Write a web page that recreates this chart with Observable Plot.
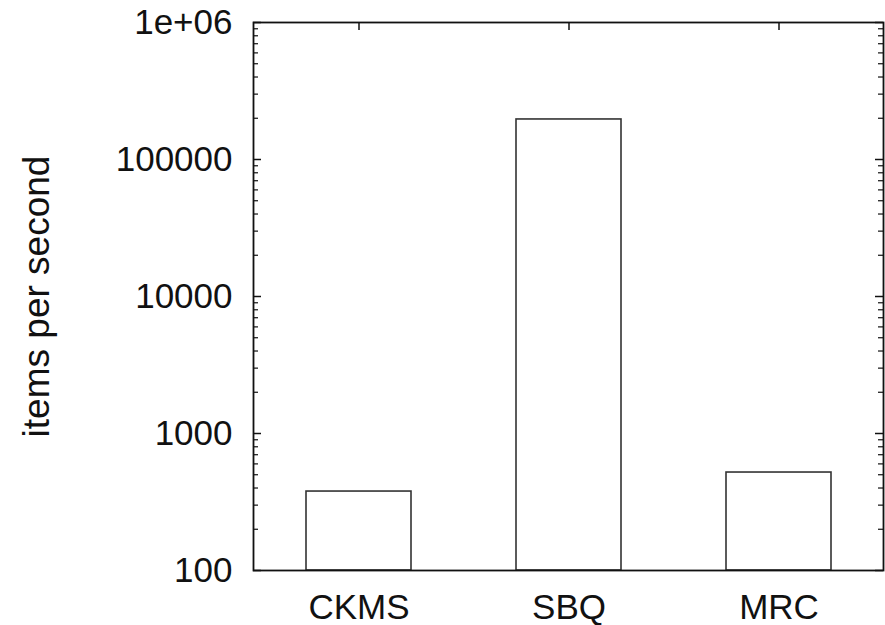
<!DOCTYPE html>
<html>
<head>
<meta charset="utf-8">
<script src="https://cdn.jsdelivr.net/npm/d3@7"></script>
<script src="https://cdn.jsdelivr.net/npm/@observablehq/plot@0.6"></script>
<style>
  html, body { margin: 0; padding: 0; background: #fff; }
  #chart { width: 885px; height: 625px; }
</style>
</head>
<body>
<div id="chart"></div>
<script>
const categories = ["CKMS", "SBQ", "MRC"];
const values = [377, 196000, 519];
const majorTicks = [100, 1000, 10000, 100000, 1000000];
const tickLabels = ["100", "1000", "10000", "100000", "1e+06"];
const yLabel = "items per second";

const data = categories.map((c, i) => ({name: c, value: values[i]}));
const minorTicks = [];
for (let d = 100; d < 1e6; d *= 10) for (let k = 2; k <= 9; k++) minorTicks.push(d * k);

const W = 885, H = 625, ML = 253, MR = 2, MT = 22, MB = 55;
const PW = W - ML - MR, PH = H - MT - MB;
const font = "Liberation Sans, Arial, Helvetica, sans-serif";
const FS = 35;

const chart = Plot.plot({
  width: W, height: H,
  marginLeft: ML, marginRight: MR, marginTop: MT, marginBottom: MB,
  style: {fontFamily: font, background: "#fff", color: "#111"},
  x: {type: "band", domain: categories, paddingInner: 0.5, paddingOuter: 0.25, align: 0.5, label: null},
  y: {type: "log", domain: [100, 1e6], label: null},
  marks: [
    Plot.ruleX(categories, {stroke: "#111", strokeWidth: 1.5, insetTop: PH - 8}),
    Plot.ruleX(categories, {stroke: "#111", strokeWidth: 1.5, insetBottom: PH - 8}),
    Plot.barY(data, {x: "name", y1: () => 100, y2: "value", fill: "white", stroke: "#333", strokeWidth: 1.6}),
    Plot.ruleY(majorTicks, {stroke: "#111", strokeWidth: 1.5, insetRight: PW - 8}),
    Plot.ruleY(majorTicks, {stroke: "#111", strokeWidth: 1.5, insetLeft: PW - 8}),
    Plot.ruleY(minorTicks, {stroke: "#111", strokeWidth: 1.2, insetRight: PW - 5}),
    Plot.ruleY(minorTicks, {stroke: "#111", strokeWidth: 1.2, insetLeft: PW - 5}),
    Plot.frame({stroke: "#111", strokeWidth: 1.8}),
    Plot.axisY({
      ticks: majorTicks, tickSize: 0, tickPadding: 21, fontSize: FS,
      tickFormat: d => tickLabels[majorTicks.indexOf(d)],
      label: null
    }),
    Plot.axisX({tickSize: 0, tickPadding: 24, fontSize: FS, label: null}),
    Plot.text([yLabel], {
      frameAnchor: "left", dx: -ML + 37, rotate: -90, fontSize: 37,
      text: d => d, textAnchor: "middle", lineAnchor: "middle", fill: "#111"
    })
  ]
});
document.getElementById("chart").appendChild(chart);
</script>
</body>
</html>
